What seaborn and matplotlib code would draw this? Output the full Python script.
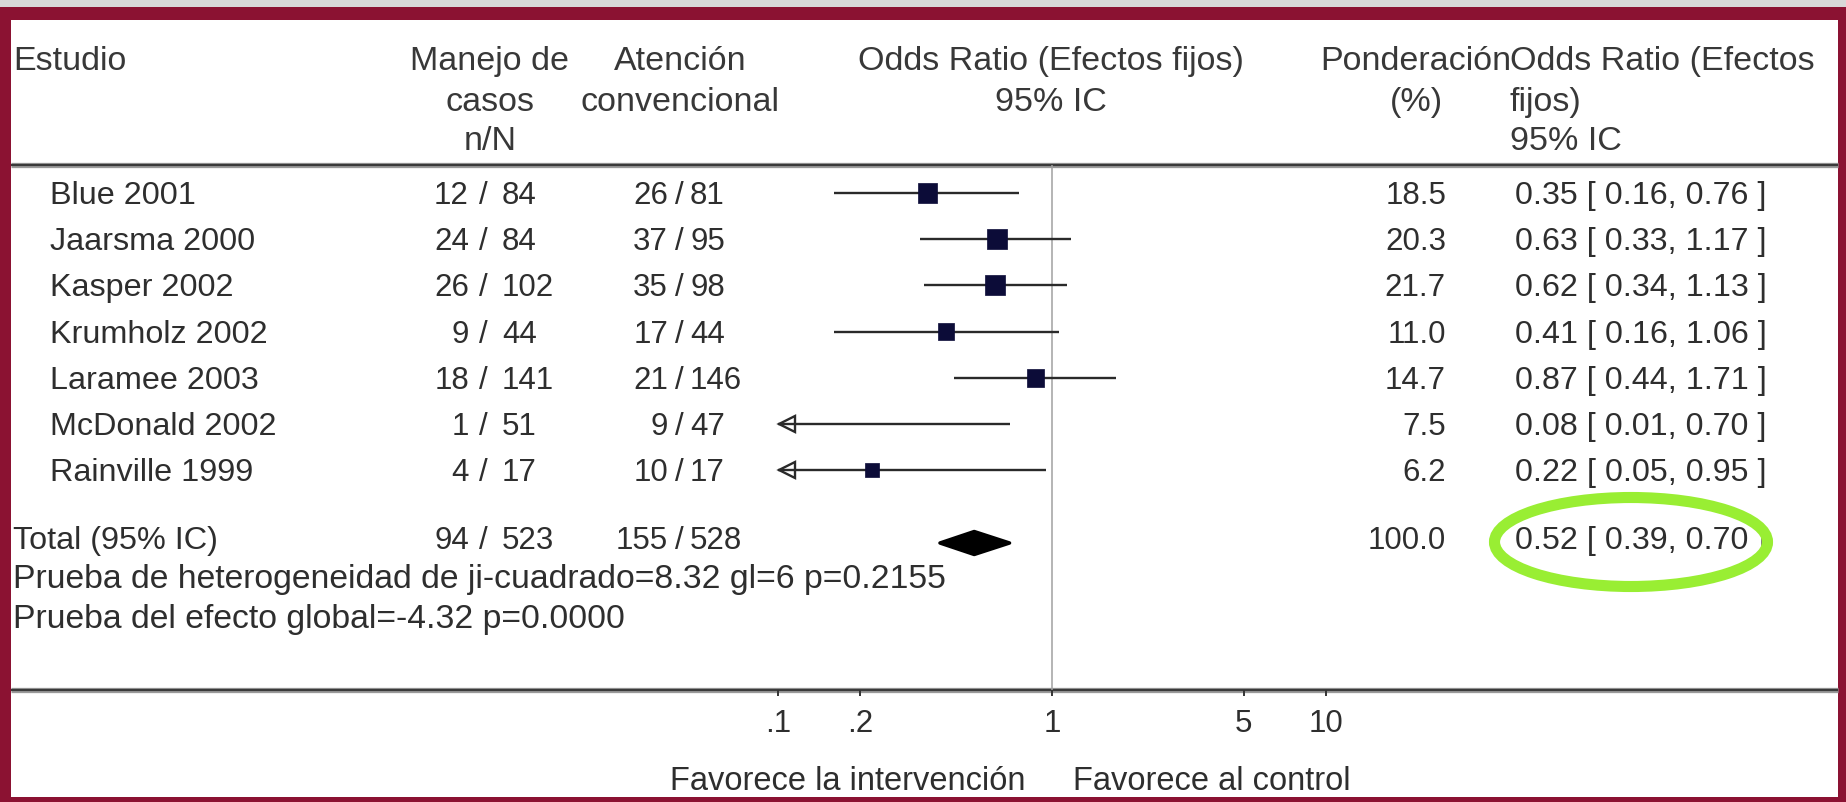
import numpy as np
import pandas as pd
import matplotlib
matplotlib.use("Agg")
import matplotlib.pyplot as plt
from matplotlib.patches import Rectangle, Ellipse, Polygon
from matplotlib.ticker import FixedLocator, FixedFormatter, NullLocator
import seaborn as sns

# ---- data -------------------------------------------------------------
studies = ["Blue 2001", "Jaarsma 2000", "Kasper 2002", "Krumholz 2002",
           "Laramee 2003", "McDonald 2002", "Rainville 1999"]
cm_events = [12, 24, 26, 9, 18, 1, 4]
cm_total = [84, 84, 102, 44, 141, 51, 17]
uc_events = [26, 37, 35, 17, 21, 9, 10]
uc_total = [81, 95, 98, 44, 146, 47, 17]
weights = [18.5, 20.3, 21.7, 11.0, 14.7, 7.5, 6.2]
odds_ratio = [0.35, 0.63, 0.62, 0.41, 0.87, 0.08, 0.22]
ci_low = [0.16, 0.33, 0.34, 0.16, 0.44, 0.01, 0.05]
ci_high = [0.76, 1.17, 1.13, 1.06, 1.71, 0.70, 0.95]

total_label = "Total (95% IC)"
total_cm = (94, 523)
total_uc = (155, 528)
total_weight = 100.0
total_or, total_low, total_high = 0.52, 0.39, 0.70

heterogeneity_text = "Prueba de heterogeneidad de ji-cuadrado=8.32 gl=6 p=0.2155"
overall_text = "Prueba del efecto global=-4.32 p=0.0000"

x_ticks = [0.1, 0.2, 1, 5, 10]
x_tick_labels = [".1", ".2", "1", "5", "10"]
x_limits = (0.1, 10)
favours_left = "Favorece la intervención"
favours_right = "Favorece al control"

# ---- style ------------------------------------------------------------
sns.set_theme(style="white")
plt.rcParams["font.family"] = ["Liberation Sans", "DejaVu Sans"]

W, H = 1846, 802
TXT = "#2e2e2e"
HDR = "#383838"
MAROON = "#8b1232"
SQUARE = "#0c0c38"
BODY_FS = 22.5
NAME_FS = 23.3
OR_FS = 23.2
HDR_FS = 24.5

fig = plt.figure(figsize=(W / 100, H / 100), dpi=100)
fig.patch.set_facecolor("white")

# overlay axes in pixel units for the table text and frame
over = fig.add_axes([0, 0, 1, 1])
over.set_xlim(0, W)
over.set_ylim(H, 0)
over.axis("off")

# frame
over.add_patch(Rectangle((0, 0), W, 7, color="#d8d8d8", lw=0, clip_on=False))
over.add_patch(Rectangle((0, 7), W, 13, color=MAROON, lw=0, clip_on=False))
over.add_patch(Rectangle((0, 7), 11, H, color=MAROON, lw=0, clip_on=False))
over.add_patch(Rectangle((1838, 7), 8, H, color=MAROON, lw=0, clip_on=False))
over.add_patch(Rectangle((0, 797), W, 5, color=MAROON, lw=0, clip_on=False))

# header / axis rules
HEAD_RULE, AXIS_RULE = 165, 690
for yy in (HEAD_RULE, AXIS_RULE):
    over.plot([11, 1838], [yy, yy], color="#9a9a9a", lw=3.8, solid_capstyle="butt")
    over.plot([11, 1838], [yy, yy], color="#3a3a3a", lw=1.6, solid_capstyle="butt")

# column headers
hdr = dict(fontsize=HDR_FS, color=HDR, va="baseline")
B1, B2, B3 = 70, 111, 150
over.text(13, B1, "Estudio", ha="left", **hdr)
for t, b in zip(["Manejo de", "casos", "n/N"], [B1, B2, B3]):
    over.text(490, b, t, ha="center", **hdr)
for t, b in zip(["Atención", "convencional"], [B1, B2]):
    over.text(680, b, t, ha="center", **hdr)
for t, b in zip(["Odds Ratio (Efectos fijos)", "95% IC"], [B1, B2]):
    over.text(1051, b, t, ha="center", **hdr)
for t, b in zip(["Ponderación", "(%)"], [B1, B2]):
    over.text(1416, b, t, ha="center", **hdr)
for t, b in zip(["Odds Ratio (Efectos", "fijos)", "95% IC"], [B1, B2, B3]):
    over.text(1510, b, t, ha="left", **hdr)

# row layout
ROW0, STEP = 193, 46.2
row_y = ROW0 + STEP * np.arange(len(studies))
BASE_OFF = 11
TOTAL_Y = 543
TOTAL_BASE = 549

body = dict(fontsize=BODY_FS, color=TXT, va="baseline")


def counts(x_slash, num_gap, den_gap, n, N, base):
    over.text(x_slash - num_gap, base, f"{n}", ha="right", **body)
    over.text(x_slash, base, "/", ha="center", **body)
    over.text(x_slash + den_gap, base, f"{N}", ha="left", **body)


def or_text(o, lo, hi):
    return f"{o:.2f} [ {lo:.2f}, {hi:.2f} ]"


for i, name in enumerate(studies):
    b = row_y[i] + BASE_OFF
    over.text(50, b, name, ha="left", fontsize=NAME_FS, color=TXT, va="baseline")
    counts(483, 14, 19, cm_events[i], cm_total[i], b)
    counts(679, 11, 11, uc_events[i], uc_total[i], b)
    over.text(1446, b, f"{weights[i]:.1f}", ha="right", **body)
    over.text(1515, b, or_text(odds_ratio[i], ci_low[i], ci_high[i]), ha="left",
              fontsize=OR_FS, color=TXT, va="baseline")

over.text(13, TOTAL_BASE, total_label, ha="left", fontsize=NAME_FS, color=TXT, va="baseline")
counts(483, 14, 19, total_cm[0], total_cm[1], TOTAL_BASE)
counts(679, 11, 11, total_uc[0], total_uc[1], TOTAL_BASE)
over.text(1446, TOTAL_BASE, f"{total_weight:.1f}", ha="right", **body)
over.text(1515, TOTAL_BASE, or_text(total_or, total_low, total_high), ha="left",
          fontsize=OR_FS, color=TXT, va="baseline")

over.text(13, 588, heterogeneity_text, ha="left", fontsize=24.3, color=TXT, va="baseline")
over.text(13, 628, overall_text, ha="left", fontsize=24.3, color=TXT, va="baseline")

over.text(1026, 790, favours_left, ha="right", fontsize=23.5, color=TXT, va="baseline")
over.text(1073, 790, favours_right, ha="left", fontsize=23.5, color=TXT, va="baseline")

# highlight around the pooled estimate
over.add_patch(Ellipse((1631, 542), 273, 89, fill=False, ec="#99ee33", lw=8, zorder=10))

# ---- forest panel on a log odds-ratio scale ---------------------------
PL, PR = 778, 1326
ax = fig.add_axes([PL / W, (H - AXIS_RULE) / H, (PR - PL) / W, (AXIS_RULE - HEAD_RULE) / H])
ax.set_xscale("log")
ax.set_xlim(*x_limits)
ax.set_ylim(AXIS_RULE, HEAD_RULE)
ax.patch.set_alpha(0)
for s in ax.spines.values():
    s.set_visible(False)

ax.axvline(1, color="#a0a0a0", lw=1.1, zorder=1)

xmin = x_limits[0]
for i in range(len(studies)):
    lo = max(ci_low[i], xmin)
    ax.hlines(row_y[i], lo, ci_high[i], color="#2a2a2a", lw=1.7, zorder=2)
    if ci_low[i] < xmin:
        ax.plot(xmin * 10 ** (9 / 274), row_y[i], marker="<", ms=12, mfc="none",
                mec="#2a2a2a", mew=1.7, clip_on=False, zorder=3)

df = pd.DataFrame({"odds_ratio": odds_ratio, "y": row_y, "weight": weights})
df = df[df["odds_ratio"] >= xmin]
sns.scatterplot(data=df, x="odds_ratio", y="y", size="weight", sizes=(110, 210),
                marker="s", color=SQUARE, edgecolor=SQUARE, linewidth=0.5,
                legend=False, ax=ax, zorder=4)

# pooled estimate diamond
diamond = Polygon([(total_low, TOTAL_Y), (total_or, TOTAL_Y - 11.5),
                   (total_high, TOTAL_Y), (total_or, TOTAL_Y + 11.5)],
                  closed=True, fc="black", ec="black", lw=2.5, joinstyle="round",
                  zorder=4)
ax.add_patch(diamond)

ax.xaxis.set_major_locator(FixedLocator(x_ticks))
ax.xaxis.set_major_formatter(FixedFormatter(x_tick_labels))
ax.xaxis.set_minor_locator(NullLocator())
ax.set_yticks([])
ax.set_xlabel("")
ax.set_ylabel("")
ax.tick_params(axis="x", bottom=True, direction="out", length=4.5, width=1.4,
               color="#333333", pad=9, labelsize=22.5, labelcolor=TXT)

fig.savefig("out.png", dpi=100, facecolor="white")
